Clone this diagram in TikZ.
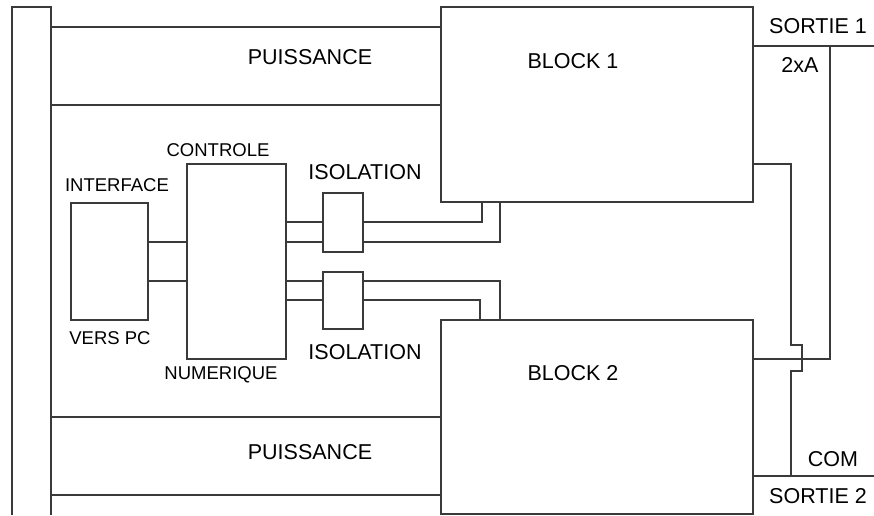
\documentclass[tikz,border=0pt]{standalone}
\usepackage{fontspec}
\setmainfont{Liberation Sans}
\usepackage{tikz}
\usetikzlibrary{positioning, calc}
\definecolor{wiregray}{HTML}{3A3A3A}

\begin{document}
\begin{tikzpicture}[x=1pt, y=-1pt,
                box/.style={draw=wiregray, line width=1.1pt, rectangle, inner sep=0pt, outer sep=0pt, anchor=north west},
                wire/.style={draw=wiregray, line width=1.1pt},
                biglabel/.style={font=\fontsize{21.5}{24}\selectfont, inner sep=0pt},
                smalllabel/.style={font=\fontsize{18.5}{21}\selectfont, inner sep=0pt}
            ]
            \useasboundingbox (0,0) rectangle (874,515);

            % blocs
            \node[box, minimum width=312pt, minimum height=195pt] (block1) at (441,7) {};
            \node[box, minimum width=312pt, minimum height=194pt] (block2) at (441,320) {};
            \node[box, minimum width=77pt, minimum height=117pt] (iface) at (71,203) {};
            \node[box, minimum width=99pt, minimum height=195pt] (ctrl) at (187,164) {};
            \node[box, minimum width=40pt, minimum height=59pt] (iso1) at (323,193) {};
            \node[box, minimum width=40pt, minimum height=57pt] (iso2) at (323,272) {};

            % bus a gauche
            \coordinate (busbl) at (12,515);
            \coordinate (busbr) at (51,515);
            \draw[wire] (busbl) -- (12,7) -- (51,7) -- (busbr);
            \foreach \yy in {27,105,417,495}
                \draw[wire] (51,\yy) -- (block1.west |- 0,\yy);

            % textes
            \node[biglabel] (pui1) at (310,57) {PUISSANCE};
            \node[biglabel] (pui2) at (310,452) {PUISSANCE};
            \node[biglabel] (b1lbl) at (573,61) {BLOCK 1};
            \node[biglabel] (b2lbl) at (573,373) {BLOCK 2};
            \node[biglabel] (iso1lbl) at (365,172) {ISOLATION};
            \node[biglabel] (iso2lbl) at (365,352) {ISOLATION};
            \node[smalllabel] (ctrllbl) at (218,150) {CONTROLE};
            \node[smalllabel] (numlbl) at (221,375) {NUMERIQUE};
            \node[smalllabel] (ifacelbl) at (117,185) {INTERFACE};
            \node[smalllabel] (pclbl) at (110,338) {VERS PC};
            \node[biglabel] (s1lbl) at (818,26) {SORTIE 1};
            \node[biglabel] (amplbl) at (800,65) {2xA};
            \node[biglabel] (comlbl) at (833,459) {COM};
            \node[biglabel] (s2lbl) at (818,496) {SORTIE 2};

            % liaisons interface / controle / isolation
            \draw[wire] (iface.east |- 0,242) -- (ctrl.west |- 0,242);
            \draw[wire] (iface.east |- 0,281) -- (ctrl.west |- 0,281);
            \draw[wire] (ctrl.east |- 0,222) -- (iso1.west |- 0,222);
            \draw[wire] (ctrl.east |- 0,242) -- (iso1.west |- 0,242);
            \draw[wire] (ctrl.east |- 0,281) -- (iso2.west |- 0,281);
            \draw[wire] (ctrl.east |- 0,300) -- (iso2.west |- 0,300);
            \draw[wire] (iso1.east |- 0,222) -| (482,0 |- block1.south);
            \draw[wire] (iso1.east |- 0,242) -| (500,0 |- block1.south);
            \draw[wire] (iso2.east |- 0,281) -| (500,0 |- block2.north);
            \draw[wire] (iso2.east |- 0,300) -| (480,0 |- block2.north);

            % sorties
            \coordinate (s1end) at (874,46);
            \coordinate (s2end) at (874,476);
            \draw[wire] (block1.east |- s1end) -- (s1end);
            \draw[wire] (block2.east |- s2end) -- (s2end);
            \draw[wire] (block2.east |- 0,359) -| (830,0 |- s1end);
            \draw[wire] (block1.east |- 0,164) -| (791,345) -- (802,345) -- (802,371) -- (791,371) -- (791,0 |- s2end);

        \end{tikzpicture}
\end{document}
